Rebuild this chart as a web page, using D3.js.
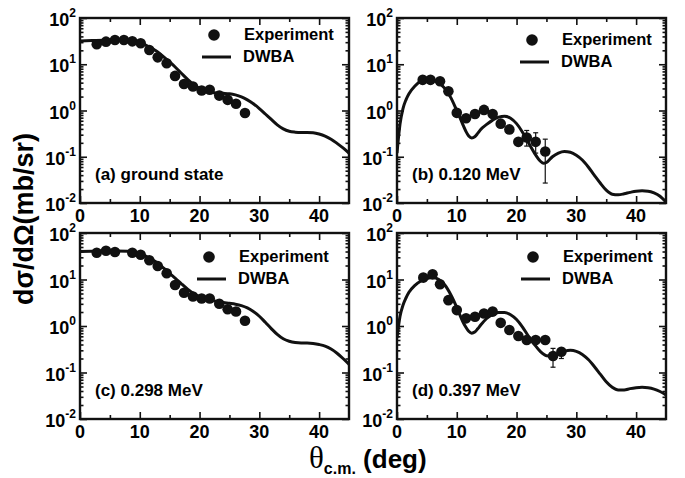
<!DOCTYPE html>
<html lang="en">
<head>
<meta charset="UTF-8">
<title>Angular distributions</title>
<script src="https://d3js.org/d3.v7.min.js"></script>
<style>
    body { margin: 0; background: #fff; }
    svg { font-family: "Liberation Sans", Arial, sans-serif; font-weight: bold; }
    .frame { fill: none; stroke: #111; stroke-width: 2.4; }
    .tick line { stroke: #111; stroke-width: 1.6; }
    .curve { fill: none; stroke: #111; stroke-width: 3; }
    .pt { fill: #111; }
    .err { stroke: #111; stroke-width: 1.2; }
</style>
</head>
<body>
<svg id="chart" width="685" height="478"></svg>
<script>
    // ---- data ----
    const panelLabels = ["(a) ground state", "(b) 0.120 MeV", "(c) 0.298 MeV", "(d) 0.397 MeV"];
    const xTicks = [0, 10, 20, 30, 40];
    const yTicks = [-2, -1, 0, 1, 2];

    const expThetaA = [2.8, 4.35, 5.85, 7.35, 8.75, 10.15, 11.6, 13.0, 14.5, 15.9, 17.4, 18.9, 20.35, 21.7, 23.3, 24.7, 26.1, 27.6];
    const expValueA = [27, 30.8, 33.4, 33.4, 31.3, 28.4, 20.3, 14.1, 10.5, 5.6, 3.75, 3.3, 2.7, 2.8, 2.1, 1.7, 1.4, 0.88];

    const expThetaB = [4.3, 5.6, 7.2, 8.6, 10.0, 11.55, 13.05, 14.55, 16.0, 17.35, 18.8, 20.3, 21.7, 23.2, 24.8];
    const expValueB = [4.6, 4.6, 4.3, 2.6, 0.89, 0.68, 0.84, 1.03, 0.84, 0.52, 0.39, 0.21, 0.26, 0.21, 0.13];
    const errLoB = [null, null, null, null, null, null, null, null, null, null, null, null, 0.17, 0.12, 0.027];
    const errHiB = [null, null, null, null, null, null, null, null, null, null, null, null, 0.37, 0.33, 0.24];

    const expThetaC = [2.8, 4.35, 5.85, 8.75, 10.15, 11.6, 13.0, 14.5, 15.9, 17.4, 18.9, 20.35, 21.7, 23.3, 24.7, 26.1, 27.6];
    const expValueC = [37.7, 41.5, 39, 37.7, 34, 26, 19.5, 13.6, 7.6, 5.2, 4.3, 3.9, 3.9, 3.0, 2.3, 2.05, 1.3];

    const expThetaD = [4.4, 5.95, 7.2, 8.6, 10.0, 11.55, 13.05, 14.55, 16.0, 17.35, 18.8, 20.3, 21.7, 23.2, 24.8, 26.1, 27.5];
    const expValueD = [11, 12.9, 7.9, 3.6, 2.2, 1.46, 1.58, 1.86, 2.04, 1.17, 0.82, 0.61, 0.5, 0.5, 0.5, 0.226, 0.28];
    const errLoD = [null, null, null, null, null, null, null, null, null, null, null, null, null, null, null, 0.13, 0.2];
    const errHiD = [null, null, null, null, null, null, null, null, null, null, null, null, null, null, null, 0.33, 0.33];

    const dwbaThetaA = [0, 2, 4, 6, 8, 9, 10, 11, 12, 13, 14, 15, 16, 17, 18, 19, 20, 21, 22, 23, 24, 25, 26, 27, 28, 29, 30,
        31, 32, 33, 34, 35, 36, 37, 38, 39, 40, 41, 42, 43, 44, 45];
    const dwbaValueA = [32, 32.5, 33, 33, 32.5, 31, 29, 26, 22, 18.5, 14.5, 11.2, 8.5, 6.3, 4.7, 3.6, 3.0, 2.65, 2.45, 2.38, 2.35,
        2.3, 2.18, 1.98, 1.7, 1.4, 1.1, 0.84, 0.64, 0.49, 0.4, 0.355, 0.34, 0.335, 0.335, 0.33, 0.31, 0.28, 0.24, 0.195, 0.155, 0.12];

    const dwbaThetaB = [0, 0.5, 1, 1.5, 2, 3, 4, 5, 6, 7, 8, 9, 10, 10.5, 11, 11.5, 12, 12.5, 13, 13.5, 14, 15, 16, 17, 18, 19,
        20, 21, 22, 23, 24, 24.5, 25, 26, 27, 28, 29, 30, 31, 32, 33, 34, 35, 36, 37, 38, 39, 40, 41, 42, 43, 44, 45];
    const dwbaValueB = [0.12, 0.5, 1.1, 1.7, 2.3, 3.4, 4.3, 4.6, 4.5, 4.0, 3.0, 1.9, 1.0, 0.72, 0.5, 0.36, 0.28, 0.255, 0.27, 0.32,
        0.39, 0.5, 0.62, 0.72, 0.75, 0.68, 0.52, 0.34, 0.2, 0.12, 0.08, 0.072, 0.075, 0.1, 0.12, 0.13, 0.125, 0.108, 0.085, 0.06,
        0.04, 0.027, 0.019, 0.0155, 0.015, 0.0158, 0.017, 0.018, 0.0183, 0.018, 0.0165, 0.014, 0.0105];

    const dwbaThetaC = dwbaThetaA;
    const dwbaValueC = [40, 40.5, 41, 41, 40.5, 39, 36.5, 32, 27, 22.5, 17.5, 13.5, 10.5, 8, 6.2, 5.0, 4.3, 3.85, 3.55, 3.35, 3.2,
        3.08, 2.95, 2.75, 2.45, 2.05, 1.62, 1.2, 0.88, 0.66, 0.53, 0.47, 0.44, 0.43, 0.43, 0.42, 0.4, 0.37, 0.32, 0.26, 0.2, 0.15];

    const dwbaThetaD = [0, 0.5, 1, 1.5, 2, 3, 4, 5, 6, 7, 8, 9, 10, 10.5, 11, 11.5, 12, 12.5, 13, 13.5, 14, 15, 16, 17, 18, 19,
        20, 21, 22, 23, 24, 25, 26, 27, 28, 29, 30, 31, 32, 33, 34, 35, 36, 37, 38, 39, 40, 41, 42, 43, 44, 45];
    const dwbaValueD = [0.55, 1.6, 2.8, 4.0, 5.3, 7.5, 9.3, 10.5, 11, 10, 7.6, 4.7, 2.5, 1.75, 1.25, 0.95, 0.77, 0.70, 0.74, 0.87,
        1.05, 1.45, 1.78, 1.95, 1.95, 1.75, 1.38, 0.95, 0.6, 0.4, 0.28, 0.23, 0.225, 0.25, 0.285, 0.3, 0.285, 0.245, 0.19, 0.135,
        0.092, 0.063, 0.048, 0.042, 0.042, 0.045, 0.047, 0.048, 0.047, 0.044, 0.039, 0.033];

    // ---- layout ----
    const svg = d3.select("#chart");
    const panels = [
        { x0: 80, x1: 349, y0: 18, y1: 203, th: expThetaA, v: expValueA, lo: null, hi: null, ct: dwbaThetaA, cv: dwbaValueA, leg: [214, 35] },
        { x0: 397, x1: 666, y0: 18, y1: 203, th: expThetaB, v: expValueB, lo: errLoB, hi: errHiB, ct: dwbaThetaB, cv: dwbaValueB, leg: [532, 40] },
        { x0: 80, x1: 349, y0: 233, y1: 419, th: expThetaC, v: expValueC, lo: null, hi: null, ct: dwbaThetaC, cv: dwbaValueC, leg: [209, 257] },
        { x0: 397, x1: 666, y0: 233, y1: 419, th: expThetaD, v: expValueD, lo: errLoD, hi: errHiD, ct: dwbaThetaD, cv: dwbaValueD, leg: [533, 257] }
    ];

    panels.forEach((p, i) => {
        const x = d3.scaleLinear().domain([0, 45]).range([p.x0, p.x1]);
        const y = d3.scaleLog().domain([1e-2, 1e2]).range([p.y1, p.y0]);
        const g = svg.append("g");

        const clipId = "clip" + i;
        g.append("clipPath").attr("id", clipId).append("rect")
            .attr("x", p.x0).attr("y", p.y0).attr("width", p.x1 - p.x0).attr("height", p.y1 - p.y0);

        // inward ticks on all four sides
        const minorX = d3.range(5, 45, 10);
        const minorY = [];
        for (let e = -2; e < 2; e++) for (let k = 2; k <= 9; k++) minorY.push(k * Math.pow(10, e));

        [[d3.axisBottom, p.y1], [d3.axisTop, p.y0]].forEach(([ax, yy]) => {
            g.append("g").attr("transform", `translate(0,${yy})`)
                .call(ax(x).tickValues(xTicks).tickSize(-7).tickFormat(""))
                .call(s => s.select(".domain").remove());
            g.append("g").attr("transform", `translate(0,${yy})`)
                .call(ax(x).tickValues(minorX).tickSize(-4).tickFormat(""))
                .call(s => s.select(".domain").remove());
        });
        [[d3.axisLeft, p.x0], [d3.axisRight, p.x1]].forEach(([ax, xx]) => {
            g.append("g").attr("transform", `translate(${xx},0)`)
                .call(ax(y).tickValues(yTicks.map(e => Math.pow(10, e))).tickSize(-7).tickFormat(""))
                .call(s => s.select(".domain").remove());
            g.append("g").attr("transform", `translate(${xx},0)`)
                .call(ax(y).tickValues(minorY).tickSize(-3.5).tickFormat(""))
                .call(s => s.select(".domain").remove());
        });

        // x tick labels
        g.selectAll(".xl").data(xTicks).join("text")
            .attr("x", d => x(d)).attr("y", p.y1 + 19)
            .attr("text-anchor", "middle").attr("font-size", 18)
            .text(d => d);

        // y tick labels 10^n
        const yl = g.selectAll(".yl").data(yTicks).join("text")
            .attr("x", p.x0 - 4).attr("y", d => y(Math.pow(10, d)) + 8)
            .attr("text-anchor", "end").attr("font-size", 18);
        yl.append("tspan").text("10");
        yl.append("tspan").attr("dy", -9).attr("font-size", 12).text(d => d);

        // DWBA curve
        const line = d3.line().x((d, j) => x(p.ct[j])).y(d => y(d)).curve(d3.curveMonotoneX);
        g.append("path").attr("class", "curve").attr("clip-path", `url(#${clipId})`)
            .attr("d", line(p.cv));

        // error bars
        if (p.lo) {
            p.th.forEach((t, j) => {
                if (p.lo[j] == null) return;
                const cx = x(t);
                g.append("line").attr("class", "err").attr("x1", cx).attr("x2", cx)
                    .attr("y1", y(p.hi[j])).attr("y2", y(p.lo[j]));
                [p.hi[j], p.lo[j]].forEach(v => g.append("line").attr("class", "err")
                    .attr("x1", cx - 2.5).attr("x2", cx + 2.5).attr("y1", y(v)).attr("y2", y(v)));
            });
        }

        // experimental points
        g.selectAll(".pt").data(p.v).join("circle").attr("class", "pt")
            .attr("cx", (d, j) => x(p.th[j])).attr("cy", d => y(d)).attr("r", 5.3);

        // frame
        g.append("rect").attr("class", "frame")
            .attr("x", p.x0).attr("y", p.y0).attr("width", p.x1 - p.x0).attr("height", p.y1 - p.y0);

        // legend
        const [lx, ly] = p.leg;
        g.append("circle").attr("class", "pt").attr("cx", lx).attr("cy", ly).attr("r", 5.8);
        g.append("text").attr("x", lx + 30).attr("y", ly + 5).attr("font-size", 16.5).text("Experiment");
        g.append("line").attr("x1", lx - 12).attr("x2", lx + 17).attr("y1", ly + 22).attr("y2", ly + 22)
            .attr("stroke", "#111").attr("stroke-width", 3);
        g.append("text").attr("x", lx + 29).attr("y", ly + 27).attr("font-size", 16.5).text("DWBA");

        // panel label
        g.append("text").attr("x", p.x0 + 15).attr("y", p.y1 - 23).attr("font-size", 17).text(panelLabels[i]);
    });

    // axis titles
    svg.append("text")
        .attr("transform", "translate(33,219) rotate(-90)")
        .attr("text-anchor", "middle").attr("font-size", 27)
        .text("dσ/dΩ(mb/sr)");

    const xt = svg.append("text").attr("x", 309).attr("y", 468);
    xt.append("tspan").attr("font-family", "Liberation Serif, serif").attr("font-weight", "normal")
        .attr("font-size", 31).text("θ");
    xt.append("tspan").attr("dy", 6).attr("font-size", 16).text("c.m.");
    xt.append("tspan").attr("dy", -6).attr("font-size", 26).text(" (deg)");
</script>
</body>
</html>
